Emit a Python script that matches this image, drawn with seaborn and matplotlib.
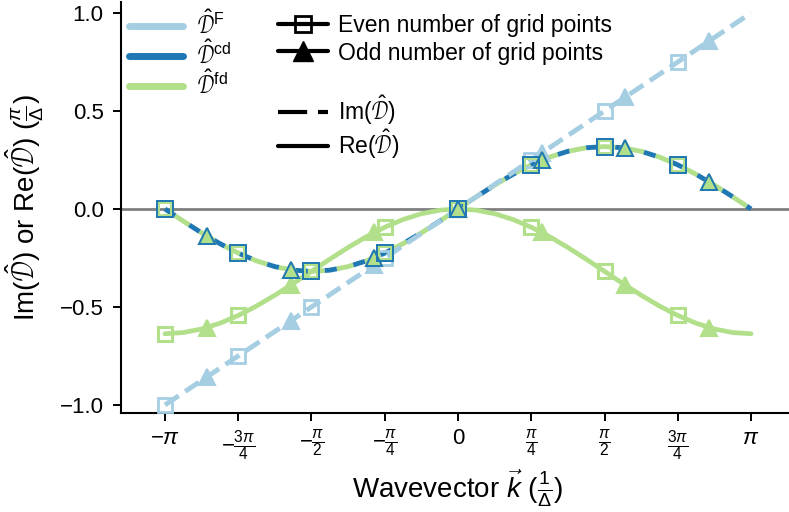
import numpy as np
import pandas as pd
import matplotlib
matplotlib.use("Agg")
import matplotlib.pyplot as plt
from matplotlib.lines import Line2D
import seaborn as sns

# ---------------- data (x in units of pi, y in units of pi/Delta) ----------------
k_fine = [-1.0, -0.9375, -0.875, -0.8125, -0.75, -0.6875, -0.625, -0.5625, -0.5,
          -0.4375, -0.375, -0.3125, -0.25, -0.1875, -0.125, -0.0625, 0.0,
          0.0625, 0.125, 0.1875, 0.25, 0.3125, 0.375, 0.4375, 0.5,
          0.5625, 0.625, 0.6875, 0.75, 0.8125, 0.875, 0.9375, 1.0]
im_diff_fine = [0.0, -0.0621, -0.1218, -0.1768, -0.2251, -0.2647, -0.2941, -0.3122, -0.3183,
                -0.3122, -0.2941, -0.2647, -0.2251, -0.1768, -0.1218, -0.0621, 0.0,
                0.0621, 0.1218, 0.1768, 0.2251, 0.2647, 0.2941, 0.3122, 0.3183,
                0.3122, 0.2941, 0.2647, 0.2251, 0.1768, 0.1218, 0.0621, 0.0]
re_fd_fine = [-0.6366, -0.6305, -0.6124, -0.5830, -0.5434, -0.4952, -0.4401, -0.3804, -0.3183,
              -0.2562, -0.1965, -0.1415, -0.0932, -0.0536, -0.0242, -0.0061, 0.0,
              -0.0061, -0.0242, -0.0536, -0.0932, -0.1415, -0.1965, -0.2562, -0.3183,
              -0.3804, -0.4401, -0.4952, -0.5434, -0.5830, -0.6124, -0.6305, -0.6366]
k_F_line = [-1.0, 1.0]
im_F_line = [-1.0, 1.0]

k_even = [-1.0, -0.75, -0.5, -0.25, 0.0, 0.25, 0.5, 0.75]
k_odd = [-0.857, -0.571, -0.286, 0.0, 0.286, 0.571, 0.857]
im_F_even = [-1.0, -0.75, -0.5, -0.25, 0.0, 0.25, 0.5, 0.75]
im_F_odd = [-0.857, -0.571, -0.286, 0.0, 0.286, 0.571, 0.857]
im_diff_even = [0.0, -0.2251, -0.3183, -0.2251, 0.0, 0.2251, 0.3183, 0.2251]
im_diff_odd = [-0.1381, -0.3103, -0.2489, 0.0, 0.2489, 0.3103, 0.1381]
re_fd_even = [-0.6366, -0.5434, -0.3183, -0.0932, 0.0, -0.0932, -0.3183, -0.5434]
re_fd_odd = [-0.6051, -0.3891, -0.1198, 0.0, -0.1198, -0.3891, -0.6051]

xtick_vals = [-1.0, -0.75, -0.5, -0.25, 0.0, 0.25, 0.5, 0.75, 1.0]
xtick_labels = [r'$-\pi$', r'$-\frac{3\pi}{4}$', r'$-\frac{\pi}{2}$', r'$-\frac{\pi}{4}$', '0',
                r'$\frac{\pi}{4}$', r'$\frac{\pi}{2}$', r'$\frac{3\pi}{4}$', r'$\pi$']
ytick_vals = [-1.0, -0.5, 0.0, 0.5, 1.0]
ytick_labels = ['\u22121.0', '\u22120.5', '0.0', '0.5', '1.0']
method_labels = [r'$\hat{\mathcal{D}}^\mathrm{F}$', r'$\hat{\mathcal{D}}^\mathrm{cd}$',
                 r'$\hat{\mathcal{D}}^\mathrm{fd}$']
grid_labels = ['Even number of grid points', 'Odd number of grid points']
part_labels = [r'Im($\hat{\mathcal{D}}$)', r'Re($\hat{\mathcal{D}}$)']

# ---------------- style ----------------
sns.set_style("ticks")
rc = plt.rcParams
rc['font.family'] = ['Liberation Sans', 'DejaVu Sans']
rc['mathtext.fontset'] = 'custom'
rc['mathtext.rm'] = 'Liberation Sans'
rc['mathtext.it'] = 'Liberation Sans:italic'
rc['mathtext.bf'] = 'Liberation Sans:bold'
rc['axes.linewidth'] = 1.5
rc['axes.edgecolor'] = 'black'
rc['text.color'] = 'black'
rc['axes.labelcolor'] = 'black'
rc['xtick.color'] = 'black'
rc['ytick.color'] = 'black'
rc['xtick.major.width'] = 1.4
rc['ytick.major.width'] = 1.4
rc['xtick.major.size'] = 6
rc['ytick.major.size'] = 5.5

pal = sns.color_palette("Paired")
c_F, c_cd, c_fd = pal[0], pal[1], pal[2]

fig = plt.figure(figsize=(7.89, 5.12), dpi=100)
ax = fig.add_axes([121 / 789, (512 - 413) / 512, 674 / 789, 411 / 512])

ax.axhline(0, color='#808080', lw=2.0, zorder=1)

def line(x, y, **kw):
    sns.lineplot(x=x, y=y, ax=ax, sort=False, **kw)

lw = 3.5
line(k_fine, re_fd_fine, color=c_fd, lw=3.4, linestyle='-', zorder=2)
line(k_fine, im_diff_fine, color=c_fd, lw=lw, linestyle=(3.5, (3.5, 2.5)), zorder=2)
line(k_fine, im_diff_fine, color=c_cd, lw=lw, linestyle=(0, (2.5, 3.5)), zorder=3)
line(k_F_line, im_F_line, color=c_F, lw=lw, linestyle=(0, (3.4, 1.6)), zorder=3)

def marks(x, y, marker, color, ms, mew, filled, z):
    sns.lineplot(x=x, y=y, ax=ax, sort=False, linestyle='', marker=marker,
                 markersize=ms, markeredgewidth=mew, markeredgecolor=color,
                 markerfacecolor=(color if filled else 'none'), color=color, zorder=z)

marks(k_even, im_F_even, 's', c_F, 10.5, 2.0, False, 4)
marks(k_odd, im_F_odd, '^', c_F, 11.5, 1.5, True, 4)
marks(k_even, re_fd_even, 's', c_fd, 10.5, 2.2, False, 5)
marks(k_odd, re_fd_odd, '^', c_fd, 11.5, 1.5, True, 5)
marks(k_even, im_diff_even, 's', c_fd, 10.5, 2.8, False, 5)
marks(k_odd, im_diff_odd, '^', c_fd, 11.5, 1.5, True, 5)
marks(k_even, im_diff_even, 's', c_cd, 11, 1.4, False, 6)
marks(k_odd, im_diff_odd, '^', c_cd, 12, 1.4, False, 6)

ax.set_xlim(-1.15, 1.15)
ax.set_ylim(-1.041, 1.056)
ax.set_xticks(xtick_vals)
ax.set_xticklabels(xtick_labels)
ax.set_yticks(ytick_vals)
ax.set_yticklabels(ytick_labels)
ax.tick_params(axis='x', labelsize=16, pad=5)
ax.tick_params(axis='y', labelsize=16, pad=7)
ax.set_xlabel(r'Wavevector $\vec{k}$ ($\frac{1}{\Delta}$)', fontsize=20, labelpad=3)
ax.set_ylabel(r'Im($\hat{\mathcal{D}}$) or Re($\hat{\mathcal{D}}$) ($\frac{\pi}{\Delta}$)',
              fontsize=20, labelpad=10)
sns.despine(ax=ax)

# ---------------- legends ----------------
h1 = [Line2D([], [], color=c, lw=5) for c in (c_F, c_cd, c_fd)]
leg1 = ax.legend(h1, method_labels, loc='upper left', bbox_to_anchor=(0.012, 0.98),
                 frameon=False, fontsize=16.5, handlelength=2.36, handletextpad=0.6,
                 borderpad=0, borderaxespad=0, labelspacing=0.08)
ax.add_artist(leg1)

h2 = [Line2D([], [], color='k', lw=3, marker='s', ms=12, mfc='none', mec='k', mew=2),
      Line2D([], [], color='k', lw=3, marker='^', ms=15, mfc='k', mec='k')]
leg2 = ax.legend(h2, grid_labels, loc='upper left', bbox_to_anchor=(0.233, 0.971),
                 frameon=False, fontsize=16.5, handlelength=2.18, handletextpad=0.44,
                 borderpad=0, borderaxespad=0, labelspacing=0.2)
ax.add_artist(leg2)

h3 = [Line2D([], [], color='k', lw=3, linestyle=(0, (7, 2.6))),
      Line2D([], [], color='k', lw=3, linestyle='-')]
leg3 = ax.legend(h3, part_labels, loc='upper left', bbox_to_anchor=(0.233, 0.776),
                 frameon=False, fontsize=16.5, handlelength=2.18, handletextpad=0.44,
                 borderpad=0, borderaxespad=0, labelspacing=0.0)

fig.savefig('out.png', dpi=100)
